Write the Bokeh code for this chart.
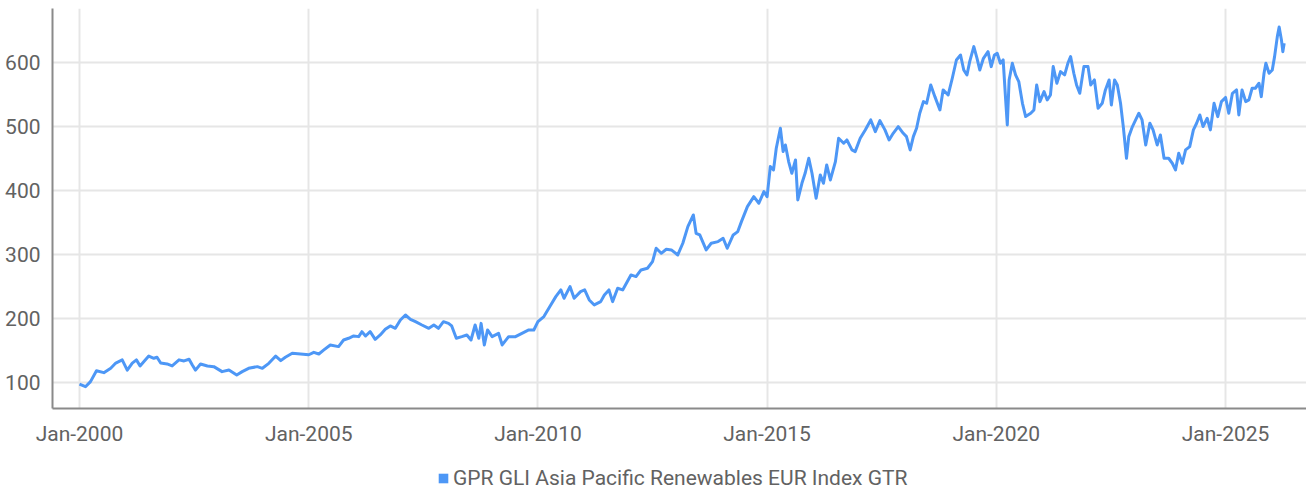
from datetime import datetime
from bokeh.plotting import figure
from bokeh.layouts import column
from bokeh.models import Range1d, FixedTicker, DatetimeTickFormatter, Legend, LegendItem, ColumnDataSource
from bokeh.embed import file_html
from bokeh.resources import INLINE

# ---- data (decimal year, index level) ----
years = [
    2000.00, 2000.13, 2000.24, 2000.37, 2000.53, 2000.68, 2000.79, 2000.93, 2001.04, 2001.15,
    2001.24, 2001.32, 2001.40, 2001.51, 2001.62, 2001.69, 2001.77, 2001.91, 2002.02, 2002.17,
    2002.28, 2002.39, 2002.46, 2002.53, 2002.64, 2002.79, 2002.93, 2003.11, 2003.26, 2003.43,
    2003.55, 2003.69, 2003.88, 2003.99, 2004.13, 2004.28, 2004.39, 2004.49, 2004.64, 2004.82,
    2005.00, 2005.11, 2005.22, 2005.33, 2005.47, 2005.65, 2005.76, 2005.87, 2005.98, 2006.09,
    2006.16, 2006.24, 2006.34, 2006.45, 2006.56, 2006.67, 2006.78, 2006.89, 2007.00, 2007.11,
    2007.22, 2007.33, 2007.47, 2007.62, 2007.73, 2007.83, 2007.94, 2008.05, 2008.12, 2008.22,
    2008.34, 2008.45, 2008.54, 2008.63, 2008.71, 2008.76, 2008.83, 2008.90, 2009.00, 2009.14,
    2009.22, 2009.36, 2009.51, 2009.65, 2009.80, 2009.91, 2010.00, 2010.13, 2010.28, 2010.39,
    2010.50, 2010.57, 2010.70, 2010.79, 2010.93, 2011.02, 2011.12, 2011.23, 2011.37, 2011.45,
    2011.55, 2011.63, 2011.74, 2011.85, 2012.03, 2012.14, 2012.25, 2012.39, 2012.50, 2012.58,
    2012.69, 2012.80, 2012.91, 2013.05, 2013.16, 2013.27, 2013.39, 2013.45, 2013.53, 2013.67,
    2013.78, 2013.93, 2014.04, 2014.13, 2014.26, 2014.36, 2014.44, 2014.57, 2014.71, 2014.82,
    2014.93, 2015.00, 2015.07, 2015.14, 2015.20, 2015.29, 2015.35, 2015.40, 2015.47, 2015.54,
    2015.62, 2015.67, 2015.76, 2015.83, 2015.91, 2015.98, 2016.07, 2016.16, 2016.23, 2016.30,
    2016.38, 2016.49, 2016.56, 2016.67, 2016.74, 2016.85, 2016.92, 2017.03, 2017.14, 2017.26,
    2017.36, 2017.46, 2017.57, 2017.66, 2017.75, 2017.86, 2017.97, 2018.04, 2018.12, 2018.19,
    2018.26, 2018.33, 2018.41, 2018.48, 2018.57, 2018.66, 2018.77, 2018.84, 2018.95, 2019.04,
    2019.13, 2019.22, 2019.29, 2019.36, 2019.42, 2019.51, 2019.58, 2019.64, 2019.72, 2019.82,
    2019.89, 2019.96, 2020.02, 2020.09, 2020.15, 2020.20, 2020.24, 2020.28, 2020.35, 2020.42,
    2020.49, 2020.57, 2020.64, 2020.75, 2020.82, 2020.88, 2020.95, 2021.04, 2021.11, 2021.18,
    2021.24, 2021.32, 2021.40, 2021.49, 2021.56, 2021.62, 2021.69, 2021.75, 2021.82, 2021.91,
    2022.00, 2022.06, 2022.14, 2022.22, 2022.31, 2022.38, 2022.46, 2022.51, 2022.58, 2022.64,
    2022.71, 2022.77, 2022.84, 2022.89, 2022.97, 2023.04, 2023.11, 2023.18, 2023.26, 2023.35,
    2023.42, 2023.51, 2023.58, 2023.66, 2023.76, 2023.84, 2023.91, 2023.98, 2024.06, 2024.13,
    2024.22, 2024.30, 2024.37, 2024.44, 2024.51, 2024.60, 2024.67, 2024.75, 2024.83, 2024.91,
    2025.00, 2025.07, 2025.15, 2025.24, 2025.29, 2025.36, 2025.44, 2025.51, 2025.58, 2025.65,
    2025.73, 2025.78, 2025.84, 2025.88, 2025.95, 2026.02, 2026.07, 2026.13, 2026.17, 2026.22,
    2026.25, 2026.28,
]
values = [
    97, 93, 101, 118, 115, 122, 130, 135, 119, 130,
    135, 125.5, 132, 141, 137.5, 139, 130, 128.6, 125.5, 135,
    133.3, 135.9, 127, 119, 128.6, 125.5, 124.4, 116.6, 119.2, 111.4,
    116.6, 121.8, 124.4, 121.8, 129.6, 141, 133.8, 139, 145.3, 144.2,
    143, 146.8, 144.2, 150.5, 158.3, 155.7, 166, 168.7, 172.3, 171.3,
    179, 172.3, 179, 167.1, 173.9, 182.7, 188, 184.3, 197.3, 205.1,
    198.4, 194.7, 189.5, 184.3, 189.5, 184.3, 194.7, 192.1, 188, 168.7,
    171.3, 173.9, 166, 189.5, 168.7, 192, 158.3, 181.7, 171.3, 176.5,
    158.3, 171.3, 171.3, 176.5, 181.7, 181.7, 194.8, 202.6, 220.8, 233.8,
    244.3, 231.2, 249.5, 231.2, 241.6, 244.3, 228.6, 220.8, 226, 236.4,
    244.3, 226, 246.9, 244.3, 267.7, 265.1, 275.5, 278.1, 288.5, 309.4,
    301.5, 307.8, 306.8, 298.9, 317.2, 343.2, 361.4, 332.8, 330.2, 306.8,
    317.2, 319.8, 325, 309.4, 330.2, 335.4, 351, 374.5, 390, 379.7,
    397.9, 390, 437, 431.8, 465.6, 496.9, 460.4, 470.8, 444.8, 426.5,
    447.4, 384.9, 410.9, 426.5, 450, 426.5, 387.5, 424, 410.9, 439.6,
    416.1, 444.8, 481.2, 473.4, 478.6, 463, 460.4, 481.2, 494.3, 509.9,
    491.6, 508.8, 494.3, 478.6, 489, 499.5, 489, 483.8, 463, 483.8,
    496.9, 520.3, 538.5, 535.9, 564.6, 546.3, 525.5, 556.8, 548.9, 575,
    603.6, 611.4, 588, 580.2, 601, 624.5, 606.2, 588, 606.2, 616.6,
    593.2, 611.4, 614, 598.4, 603.6, 546.3, 502, 572.4, 598.4, 580.2,
    569.8, 535.9, 515.1, 520.3, 525.5, 564.6, 538.5, 554.1, 541.1, 548.9,
    593.2, 567.2, 585.4, 580.2, 598.4, 608.8, 582.8, 564.6, 551.5, 593.2,
    593.2, 564.6, 572.4, 528.1, 535.9, 556.8, 572.4, 533.3, 572.4, 564.6,
    535.9, 499.5, 450, 483.8, 499.5, 509.9, 520.3, 509.9, 470.8, 504.7,
    494.3, 470.8, 486.4, 450, 450, 442.2, 431.8, 457.8, 442.2, 463,
    468.2, 494.3, 504.7, 517.7, 499.5, 512.5, 494.3, 535.9, 515.1, 538.5,
    545, 520.3, 551.5, 556.8, 517.7, 556.8, 538.5, 541.1, 559.4, 559.4,
    567.2, 546.3, 582.8, 598.4, 582.8, 588, 608.8, 640.1, 655, 634.9,
    616.6, 629.7,
]
x_tick_years = [2000, 2005, 2010, 2015, 2020, 2025]
y_ticks = [100, 200, 300, 400, 500, 600]
series_name = "GPR GLI Asia Pacific Renewables EUR Index GTR"

BLUE = "#4d97f6"
TEXT = "#626262"
FONT = "Roboto"


def dec_to_dt(y):
    yr = int(y)
    a = datetime(yr, 1, 1)
    b = datetime(yr + 1, 1, 1)
    return a + (b - a) * (y - yr)


def to_ms(d):
    return (d - datetime(1970, 1, 1)).total_seconds() * 1000.0


dates = [dec_to_dt(y) for y in years]
src = ColumnDataSource(dict(date=dates, value=values))

px_per_year = 45.84
x_start = 2000 - 27 / px_per_year
frame_w = 1254
x_end = x_start + frame_w / px_per_year

p = figure(
    frame_width=frame_w, frame_height=400,
    x_axis_type="datetime",
    x_range=Range1d(to_ms(dec_to_dt(x_start)), to_ms(dec_to_dt(x_end))),
    y_range=Range1d(59, 684),
    output_backend="svg", toolbar_location=None,
    min_border_left=52, min_border_right=0, min_border_top=8, min_border_bottom=0,
    outline_line_color=None,
)

p.line("date", "value", source=src, line_color=BLUE, line_width=3, line_join="round")

p.xaxis.ticker = FixedTicker(ticks=[to_ms(datetime(y, 1, 1)) for y in x_tick_years])
p.xaxis.formatter = DatetimeTickFormatter(years="%b-%Y", months="%b-%Y", days="%b-%Y")
p.yaxis.ticker = FixedTicker(ticks=y_ticks)

for ax in (p.xaxis, p.yaxis):
    ax.axis_line_color = "#8a8a8a"
    ax.axis_line_width = 2
    ax.major_tick_line_color = None
    ax.minor_tick_line_color = None
    ax.major_label_text_font = FONT
    ax.major_label_text_font_size = "21px"
    ax.major_label_text_color = TEXT
p.xaxis.major_label_standoff = 7
p.yaxis.major_label_standoff = 6

p.xgrid.ticker = p.xaxis.ticker
p.grid.grid_line_color = "#e6e6e6"
p.grid.grid_line_width = 2

# ---- legend strip below the chart ----
LEG_H = 45
lg = figure(
    width=1306, height=LEG_H,
    x_range=Range1d(0, 1), y_range=Range1d(0, 1),
    x_axis_location=None, y_axis_location=None,
    output_backend="svg", toolbar_location=None,
    min_border=0, outline_line_color=None,
)
lg.grid.visible = False
# swatch proxy for the legend (kept outside the visible range)
sw = lg.quad(left=[5], right=[6], top=[5], bottom=[4], fill_color=BLUE, line_color=None)
legend = Legend(items=[LegendItem(label=series_name, renderers=[sw])],
                orientation="horizontal", location=(385, 3),
                border_line_color=None, background_fill_alpha=0,
                margin=0, padding=0, glyph_width=12, glyph_height=12,
                label_standoff=4, label_text_font=FONT, label_text_font_size="21px",
                label_text_color=TEXT)
lg.add_layout(legend)

open("out.html", "w").write(file_html(column(p, lg, spacing=0), INLINE))
